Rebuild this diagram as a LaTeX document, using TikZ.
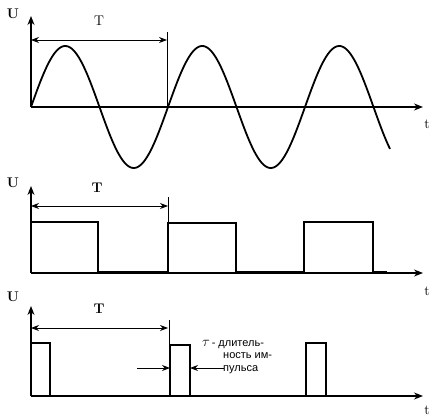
\documentclass[tikz,border=0pt]{standalone}
\usepackage{fontspec}
\newfontfamily\cyr{Liberation Sans}
\usetikzlibrary{arrows.meta}
\begin{document}
\begin{tikzpicture}[x=1pt,y=-1pt,
  ax/.style={line width=1.6pt,-{Stealth[length=9pt,width=7pt]}},
  dim/.style={line width=0.9pt,{Stealth[length=8pt,width=6pt]}-{Stealth[length=8pt,width=6pt]}},
  onearr/.style={line width=0.9pt,-{Stealth[length=8pt,width=6pt]}},
  sig/.style={line width=2.2pt},
  thin/.style={line width=0.9pt},
  lbl/.style={inner sep=0pt,font=\fontsize{14}{14}\selectfont},
  lblb/.style={inner sep=0pt,font=\fontsize{14}{14}\selectfont\bfseries}]
\useasboundingbox (0,0) rectangle (447,420);
% ---------- panel 1 ----------
\coordinate (o1) at (31,107);
\coordinate (y1) at (31,16);
\coordinate (x1) at (423,107);
\coordinate (v1t) at (167,32);
\coordinate (v1b) at (167,107);
\coordinate (d1a) at (31,40);
\coordinate (d1b) at (167,40);
\draw[ax,line width=1.2pt] (o1) -- (y1);
\draw[ax,line width=2.2pt] (o1) -- (x1);
\draw[thin] (v1t) -- (v1b);
\draw[dim] (d1a) -- (d1b);
\node[lblb] (U1) at (13,14) {U};
\node[lbl] (T1) at (99,21) {T};
\node[lbl] (t1) at (427,124) {t};
\draw[line width=1.8pt] plot[domain=31:390,samples=240] (\x,{107-61*sin((\x-31)/137*360)});
% ---------- panel 2 ----------
\coordinate (o2) at (31,273);
\coordinate (y2) at (31,186);
\coordinate (x2) at (423,273);
\coordinate (v2t) at (168,197);
\coordinate (v2b) at (168,222);
\coordinate (d2a) at (31,206);
\coordinate (d2b) at (168,206);
\draw[ax,line width=1.2pt] (o2) -- (y2);
\draw[ax,line width=1.2pt] (o2) -- (x2);
\draw[thin] (v2t) -- (v2b);
\draw[dim] (d2a) -- (d2b);
\node[lblb] (U2) at (13,183) {U};
\node[lblb] (T2) at (97,188) {T};
\node[lbl] (t2) at (427,291) {t};
\draw[sig,line join=miter] (31,222) -- (98,222) -- (98,272) -- (168,272) -- (168,223) -- (236,223) -- (236,272) -- (304,272) -- (304,222) -- (373,222) -- (373,272) -- (387,272);
% ---------- panel 3 ----------
\coordinate (o3) at (31,396);
\coordinate (y3) at (31,306);
\coordinate (x3) at (423,396);
\coordinate (v3t) at (169,320);
\coordinate (v3b) at (169,345);
\coordinate (d3a) at (31,328);
\coordinate (d3b) at (168,328);
\draw[ax,line width=1.2pt] (o3) -- (y3);
\draw[ax,line width=1.2pt] (o3) -- (x3);
\draw[thin] (v3t) -- (v3b);
\draw[dim] (d3a) -- (d3b);
\node[lblb] (U3) at (13,297) {U};
\node[lblb] (T3) at (99,309) {T};
\node[lbl] (t3) at (427,410) {t};
\draw[line width=1.5pt] (31,343) -- (50,343) -- (50,396);
\draw[line width=1.5pt] (170,396) -- (170,345) -- (190,345) -- (190,396);
\draw[line width=1.5pt] (306,396) -- (306,343) -- (326,343) -- (326,396);
\coordinate (la) at (137,368);
\coordinate (lb) at (170,368);
\coordinate (ra) at (224,368);
\coordinate (rb) at (190,368);
\draw[onearr] (la) -- (lb);
\draw[onearr] (ra) -- (rb);
\node[inner sep=0pt,anchor=west,align=left,font=\cyr\fontsize{11}{12.5}\selectfont] (tau) at (202,357)
  {{\Large$\tau$}\,- длитель-\\\hspace{21pt}ность им-\\\hspace{21pt}пульса};
\end{tikzpicture}
\end{document}
